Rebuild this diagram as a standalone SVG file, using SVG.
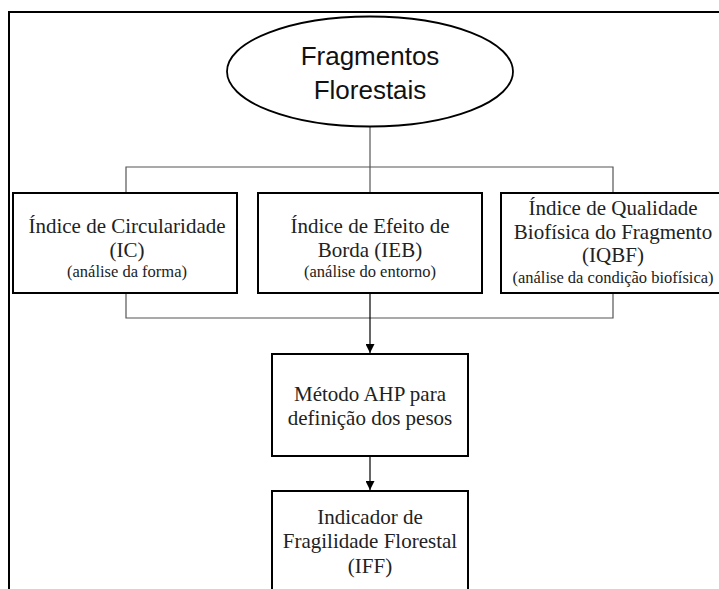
<svg xmlns="http://www.w3.org/2000/svg" width="719" height="589" viewBox="0 0 719 589">
<defs>
<style>
.frame{fill:none;stroke:#000;stroke-width:2}
.box{fill:#fff;stroke:#000;stroke-width:2}
.conn{fill:none;stroke:#555;stroke-width:1.2}
.arr{fill:none;stroke:#000;stroke-width:1.2}
.title{font-family:"Liberation Sans",Arial,sans-serif;font-size:26px;fill:#111;text-anchor:middle}
.t{font-family:"Liberation Serif","Times New Roman",serif;font-size:21px;fill:#222;text-anchor:middle}
.s{font-family:"Liberation Serif","Times New Roman",serif;font-size:16.5px;fill:#222;text-anchor:middle}
</style>
<marker id="ah" viewBox="0 0 10 10" refX="10" refY="5" markerWidth="9" markerHeight="9" markerUnits="userSpaceOnUse" orient="auto">
<path d="M0,0 L10,5 L0,10 Z" fill="#000"/>
</marker>
</defs>
<rect width="719" height="589" fill="#fff"/>
<path class="frame" d="M9,600 L9,12 L730,12"/>
<g id="connectors">
<path class="conn" d="M370,126 L370,193"/>
<path class="conn" d="M126,192 L126,167 L613,167 L613,192"/>
<path class="conn" d="M126,293 L126,318 L613,318 L613,293"/>
<path class="arr" d="M370,293 L370,353" marker-end="url(#ah)"/>
<path class="arr" d="M370,456 L370,490" marker-end="url(#ah)"/>
</g>
<g id="fragmentos">
<ellipse cx="370" cy="71.5" rx="143" ry="55" fill="#fff" stroke="#000" stroke-width="1.8"/>
<text class="title" x="370" y="65">Fragmentos</text>
<text class="title" x="370" y="99">Florestais</text>
</g>
<g id="ic">
<rect class="box" x="13" y="193" width="224" height="100"/>
<text class="t" x="127" y="233">Índice de Circularidade</text>
<text class="t" x="127" y="257">(IC)</text>
<text class="s" x="127" y="277">(análise da forma)</text>
</g>
<g id="ieb">
<rect class="box" x="258" y="193" width="224" height="100"/>
<text class="t" x="370" y="233">Índice de Efeito de</text>
<text class="t" x="370" y="257">Borda (IEB)</text>
<text class="s" x="370" y="277">(análise do entorno)</text>
</g>
<g id="iqbf">
<rect class="box" x="501" y="193" width="228" height="100"/>
<text class="t" x="613" y="215">Índice de Qualidade</text>
<text class="t" x="613" y="239">Biofísica do Fragmento</text>
<text class="t" x="613" y="262">(IQBF)</text>
<text class="s" x="613" y="283">(análise da condição biofísica)</text>
</g>
<g id="ahp">
<rect class="box" x="272" y="354" width="196" height="102"/>
<text class="t" x="370" y="401">Método AHP para</text>
<text class="t" x="370" y="425">definição dos pesos</text>
</g>
<g id="iff">
<rect class="box" x="272" y="491" width="196" height="120"/>
<text class="t" x="370" y="524">Indicador de</text>
<text class="t" x="370" y="548">Fragilidade Florestal</text>
<text class="t" x="370" y="573">(IFF)</text>
</g>
</svg>
